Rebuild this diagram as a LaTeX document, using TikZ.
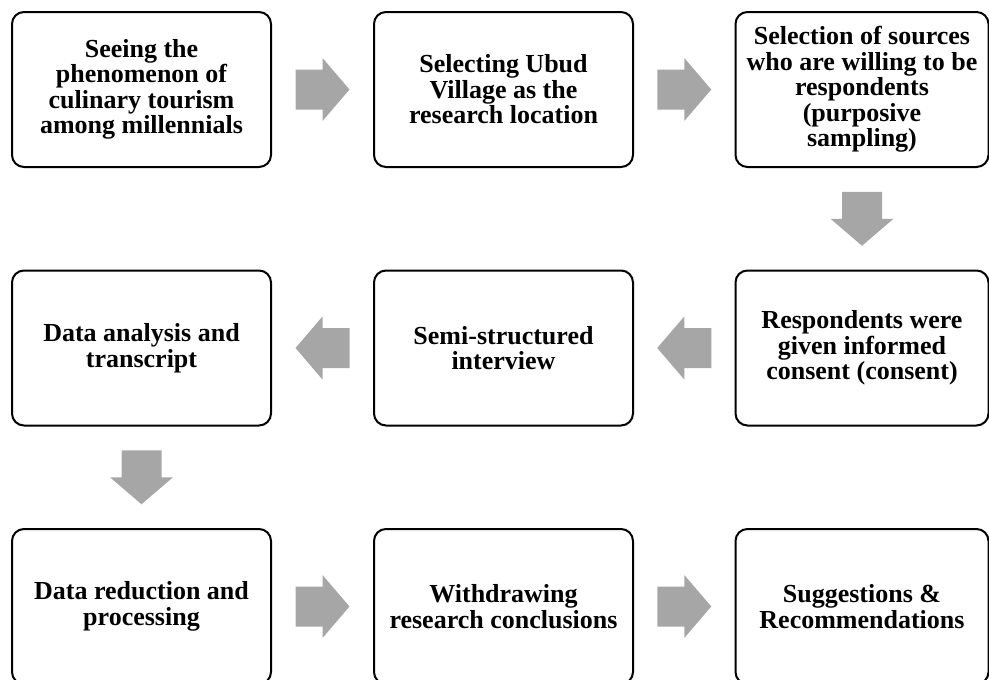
\documentclass[tikz,border=0pt]{standalone}
\usepackage{fontspec}
\setmainfont{Liberation Serif}
\usepackage[dvipsnames]{xcolor}
\usepackage{tikz}
\usetikzlibrary{calc}

\definecolor{arrowgray}{HTML}{A6A6A6}

\tikzset{
  stepbox/.style={draw,line width=2pt,rounded corners=12pt,fill=white,
    minimum width=259pt,minimum height=155pt,align=center,inner sep=4pt,
    font=\fontsize{26}{25.5}\selectfont\bfseries},
  blockarrow/.pic={
    \fill[arrowgray] (-27,-20) -- (0,-20) -- (0,-31.5) -- (27,0)
      -- (0,31.5) -- (0,20) -- (-27,20) -- cycle;
  }
}

\begin{document}
\begin{tikzpicture}[x=1pt,y=-1pt]
  \useasboundingbox (0,0) rectangle (989,680);
  \clip (0,0) rectangle (989,680);
  % first row
  \node[stepbox] (see) at (141.5,89.5) {Seeing the\\phenomenon of\\culinary tourism\\among millennials};
  \node[stepbox] (ubud) at (503.5,89.5) {Selecting Ubud\\Village as the\\research location};
  \node[stepbox,minimum width=253pt] (sources) at (862,89.5) {Selection of sources\\who are willing to be\\respondents\\(purposive\\sampling)};
  % second row
  \node[stepbox,minimum width=253pt] (consent) at (862,348) {Respondents were\\given informed\\consent (consent)};
  \node[stepbox] (interview) at (503.5,348) {Semi-structured\\interview};
  \node[stepbox] (analysis) at (141.5,348) {Data analysis and\\transcript};
  % third row
  \node[stepbox] (reduction) at (141.5,606.5) {Data reduction and\\processing};
  \node[stepbox] (conclusion) at (503.5,606.5) {Withdrawing\\research conclusions};
  \node[stepbox,minimum width=253pt] (suggest) at (862,606.5) {Suggestions \&\\Recommendations};
  % block arrows between the steps
  \pic at ($(see.east)!0.5!(ubud.west)$) {blockarrow};
  \pic at ($(ubud.east)!0.5!(sources.west)$) {blockarrow};
  \pic[rotate=-90] at ($(sources.south)!0.5!(consent.north)$) {blockarrow};
  \pic[rotate=180] at ($(consent.west)!0.5!(interview.east)$) {blockarrow};
  \pic[rotate=180] at ($(interview.west)!0.5!(analysis.east)$) {blockarrow};
  \pic[rotate=-90] at ($(analysis.south)!0.5!(reduction.north)$) {blockarrow};
  \pic at ($(reduction.east)!0.5!(conclusion.west)$) {blockarrow};
  \pic at ($(conclusion.east)!0.5!(suggest.west)$) {blockarrow};
\end{tikzpicture}
\end{document}
